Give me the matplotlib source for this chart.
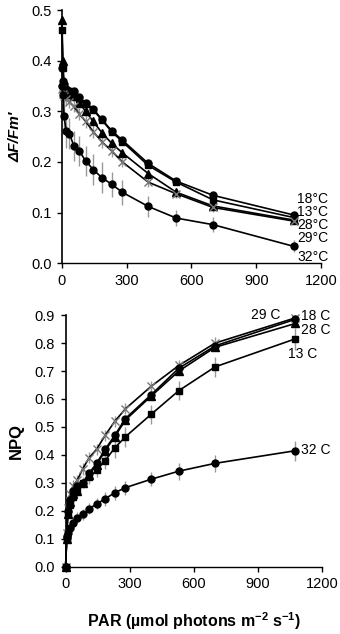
import matplotlib
matplotlib.use("Agg")
import matplotlib.pyplot as plt
import numpy as np

plt.rcParams['font.family'] = ['Liberation Sans', 'DejaVu Sans']
plt.rcParams['mathtext.default'] = 'regular'

# PAR levels (umol photons m-2 s-1)
par = [0, 5, 10, 20, 35, 55, 80, 110, 145, 185, 230, 280, 400, 530, 700, 1075]

# Effective quantum yield dF/Fm'
yld_18 = [0.385, 0.36, 0.355, 0.345, 0.34, 0.34, 0.328, 0.317, 0.305, 0.284, 0.262, 0.243, 0.197, 0.162, 0.134, 0.095]
yld_13 = [0.46, 0.385, 0.35, 0.342, 0.34, 0.335, 0.325, 0.315, 0.303, 0.283, 0.26, 0.24, 0.193, 0.16, 0.125, 0.09]
yld_28 = [0.48, 0.40, 0.345, 0.34, 0.335, 0.33, 0.317, 0.30, 0.28, 0.258, 0.237, 0.218, 0.177, 0.14, 0.113, 0.085]
yld_29 = [0.345, 0.335, 0.33, 0.325, 0.318, 0.31, 0.295, 0.28, 0.26, 0.24, 0.222, 0.20, 0.16, 0.137, 0.11, 0.083]
yld_32 = [0.35, 0.333, 0.29, 0.262, 0.256, 0.232, 0.222, 0.202, 0.185, 0.169, 0.156, 0.14, 0.112, 0.089, 0.076, 0.033]
yld_err_32 = [0.01, 0.02, 0.03, 0.035, 0.03, 0.03, 0.03, 0.03, 0.03, 0.03, 0.025, 0.025, 0.02, 0.015, 0.015, 0.012]
yld_err_29 = [0.005, 0.01, 0.01, 0.012, 0.012, 0.012, 0.012, 0.012, 0.012, 0.012, 0.012, 0.01, 0.01, 0.008, 0.008, 0.006]

# Non-photochemical quenching
npq_29 = [0.0, 0.12, 0.21, 0.26, 0.29, 0.31, 0.35, 0.39, 0.42, 0.47, 0.52, 0.565, 0.645, 0.72, 0.80, 0.89]
npq_18 = [0.0, 0.11, 0.20, 0.24, 0.27, 0.29, 0.30, 0.335, 0.37, 0.42, 0.47, 0.53, 0.615, 0.71, 0.79, 0.885]
npq_28 = [0.0, 0.10, 0.19, 0.23, 0.26, 0.27, 0.30, 0.33, 0.365, 0.415, 0.465, 0.525, 0.61, 0.70, 0.785, 0.87]
npq_13 = [0.0, 0.10, 0.19, 0.22, 0.25, 0.27, 0.30, 0.32, 0.345, 0.38, 0.425, 0.465, 0.545, 0.63, 0.715, 0.815]
npq_32 = [0.0, 0.104, 0.12, 0.14, 0.155, 0.175, 0.188, 0.207, 0.225, 0.243, 0.265, 0.283, 0.313, 0.342, 0.37, 0.415]
npq_err_32 = [0.005, 0.01, 0.015, 0.02, 0.02, 0.02, 0.02, 0.02, 0.02, 0.025, 0.025, 0.025, 0.025, 0.03, 0.03, 0.035]
npq_err_13 = [0.005, 0.01, 0.015, 0.02, 0.02, 0.02, 0.02, 0.025, 0.025, 0.03, 0.035, 0.035, 0.035, 0.035, 0.035, 0.04]
npq_err_29 = [0.005, 0.01, 0.015, 0.02, 0.02, 0.02, 0.02, 0.02, 0.02, 0.02, 0.02, 0.02, 0.02, 0.02, 0.02, 0.02]

grey = "#999999"

fig = plt.figure(figsize=(3.4, 6.34), dpi=100)
ax1 = fig.add_axes([0.182, 0.585, 0.762, 0.399])
ax2 = fig.add_axes([0.193, 0.106, 0.754, 0.397])

def series(ax, y, marker, ms, err=None, mcol="black"):
    if err is not None:
        ax.errorbar(par, y, yerr=err, fmt="none", ecolor=grey, elinewidth=1.0, capsize=0, zorder=1)
    ax.plot(par, y, color="black", lw=1.2, marker=marker, ms=ms, mfc=mcol, mec=mcol,
            mew=1.0, zorder=3, clip_on=False)

series(ax1, yld_18, "o", 5)
series(ax1, yld_13, "s", 4.6)
series(ax1, yld_28, "^", 5.2)
series(ax1, yld_29, "x", 5.5, err=yld_err_29, mcol="#777777")
series(ax1, yld_32, "o", 5, err=yld_err_32)

series(ax2, npq_29, "x", 5.5, err=npq_err_29, mcol="#777777")
series(ax2, npq_18, "o", 5)
series(ax2, npq_28, "^", 5.2)
series(ax2, npq_13, "s", 4.6, err=npq_err_13)
series(ax2, npq_32, "o", 5, err=npq_err_32)

for ax, ymax, step in [(ax1, 0.5, 0.1), (ax2, 0.9, 0.1)]:
    ax.set_xlim(0, 1200)
    ax.set_ylim(0, ymax)
    ax.set_xticks(np.arange(0, 1201, 300))
    ax.set_yticks(np.arange(0, ymax + 0.001, step))
    ax.yaxis.set_major_formatter(matplotlib.ticker.FormatStrFormatter("%.1f"))
    ax.spines["top"].set_visible(False)
    ax.spines["right"].set_visible(False)
    ax.spines["left"].set_linewidth(1.2)
    ax.spines["bottom"].set_linewidth(1.0)
    ax.tick_params(direction="out", length=3.5, width=1, labelsize=10.5, pad=4)

ax1.set_ylabel("ΔF/Fm′", fontsize=11, fontweight="bold", fontstyle="italic", labelpad=6)
ax2.set_ylabel("NPQ", fontsize=12, fontweight="bold", labelpad=8)
ax2.set_xlabel("PAR (µmol photons m$^{-2}$ s$^{-1}$)", fontsize=11.5, fontweight="bold", labelpad=14)

fs = 10
ax1.text(1090, 0.127, "18°C", fontsize=fs, va="center", clip_on=False)
ax1.text(1090, 0.101, "13°C", fontsize=fs, va="center", clip_on=False)
ax1.text(1090, 0.075, "28°C", fontsize=fs, va="center", clip_on=False)
ax1.text(1090, 0.049, "29°C", fontsize=fs, va="center", clip_on=False)
ax1.text(1090, 0.012, "32°C", fontsize=fs, va="center", clip_on=False)

ax2.text(1005, 0.900, "29 C", fontsize=fs, va="center", ha="right", clip_on=False)
ax2.text(1100, 0.895, "18 C", fontsize=fs, va="center", clip_on=False)
ax2.text(1100, 0.848, "28 C", fontsize=fs, va="center", clip_on=False)
ax2.text(1043, 0.760, "13 C", fontsize=fs, va="center", clip_on=False)
ax2.text(1100, 0.418, "32 C", fontsize=fs, va="center", clip_on=False)

fig.savefig("out.png", dpi=100)
